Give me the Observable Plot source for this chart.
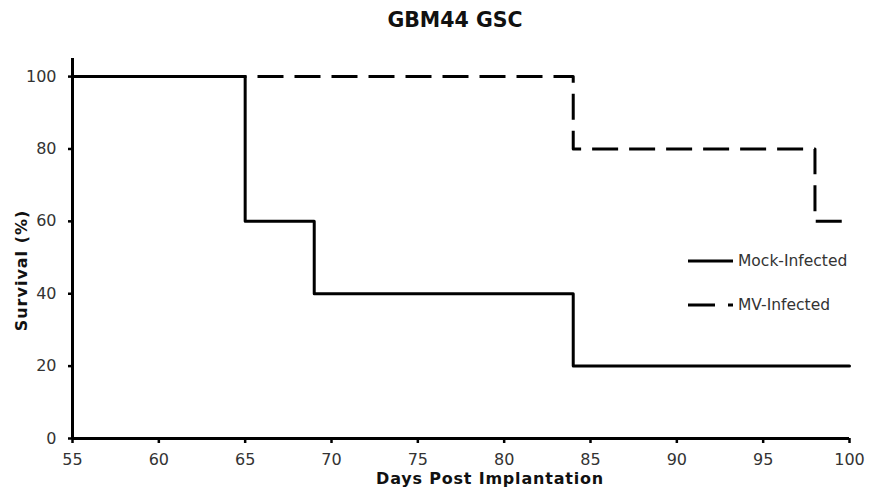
<!DOCTYPE html>
<html>
<head>
<meta charset="utf-8">
<script src="https://cdn.jsdelivr.net/npm/d3@7"></script>
<script src="https://cdn.jsdelivr.net/npm/@observablehq/plot@0.6"></script>
<style>
  body { margin: 0; background: #fff; }
  #wrap { position: relative; width: 869px; height: 491px; font-family: "DejaVu Sans", Verdana, sans-serif; }
  #title { position: absolute; left: 0; top: 8px; width: 910px; text-align: center; font-weight: bold; font-size: 20.5px; color: #111; }
  #chart { position: absolute; left: 0; top: 45px; }
  #legend { position: absolute; left: 686px; top: 246px; }
  .xlab text { letter-spacing: 0.8px; }
  .ylab text { letter-spacing: 1px; }
</style>
</head>
<body>
<div id="wrap">
  <div id="title">GBM44 GSC</div>
  <div id="chart"></div>
  <svg id="legend" width="180" height="80"></svg>
</div>
<script>
const seriesNames = ["Mock-Infected", "MV-Infected"];
const mockDays = [55, 65, 69, 84, 100];
const mockSurvival = [100, 60, 40, 20, 20];
const mvDays = [55, 84, 98, 100];
const mvSurvival = [100, 80, 60, 60];
const xTicks = [55, 60, 65, 70, 75, 80, 85, 90, 95, 100];
const yTicks = [0, 20, 40, 60, 80, 100];

const mock = mockDays.map((d, i) => ({day: d, surv: mockSurvival[i]}));
const mv = mvDays.map((d, i) => ({day: d, surv: mvSurvival[i]}));

const chart = Plot.plot({
  width: 869,
  height: 446,
  marginTop: 13,
  marginBottom: 53,
  marginLeft: 72,
  marginRight: 20,
  style: {fontFamily: "DejaVu Sans, Verdana, sans-serif", fontSize: "16px", color: "#333", background: "transparent"},
  x: {domain: [55, 100], label: null},
  y: {domain: [0, 105], label: null},
  marks: [
    Plot.lineY(mv, {x: "day", y: "surv", curve: "step-after", stroke: "#000", strokeWidth: 3, strokeDasharray: "26,11", strokeLinecap: "butt"}),
    Plot.lineY(mock, {x: "day", y: "surv", curve: "step-after", stroke: "#000", strokeWidth: 3}),
    Plot.axisX({ticks: xTicks, tickSize: 5, tickPadding: 10, stroke: "#000", strokeWidth: 2.5, label: null, fill: "#333", fontSize: 16}),
    Plot.axisY({ticks: yTicks, tickSize: 4, tickPadding: 12, stroke: "#000", strokeWidth: 2.5, label: null, fill: "#333", fontSize: 16}),
    Plot.ruleX([55], {stroke: "#000", strokeWidth: 3}),
    Plot.ruleY([0], {stroke: "#000", strokeWidth: 3}),
    Plot.text(["Days Post Implantation"], {frameAnchor: "bottom", dx: 29, dy: 45, fontWeight: "bold", fontSize: 16, fill: "#111", textAnchor: "middle", className: "xlab"}),
    Plot.text(["Survival (%)"], {frameAnchor: "left", dx: -51, dy: 22, rotate: -90, textAnchor: "middle", fontWeight: "bold", fontSize: 16, fill: "#111", className: "ylab"})
  ]
});
document.getElementById("chart").appendChild(chart);

// legend
const lg = d3.select("#legend");
const rows = [
  {name: seriesNames[0], dash: null, y: 15},
  {name: seriesNames[1], dash: "27,13", y: 59}
];
rows.forEach(r => {
  const line = lg.append("line").attr("x1", 2).attr("x2", 47).attr("y1", r.y).attr("y2", r.y)
    .attr("stroke", "#000").attr("stroke-width", 3);
  if (r.dash) line.attr("stroke-dasharray", r.dash);
  lg.append("text").attr("x", 52).attr("y", r.y).attr("dy", "0.35em")
    .attr("font-family", "DejaVu Sans, Verdana, sans-serif").attr("font-size", 15.5)
    .attr("fill", "#333").text(r.name);
});
</script>
</body>
</html>
